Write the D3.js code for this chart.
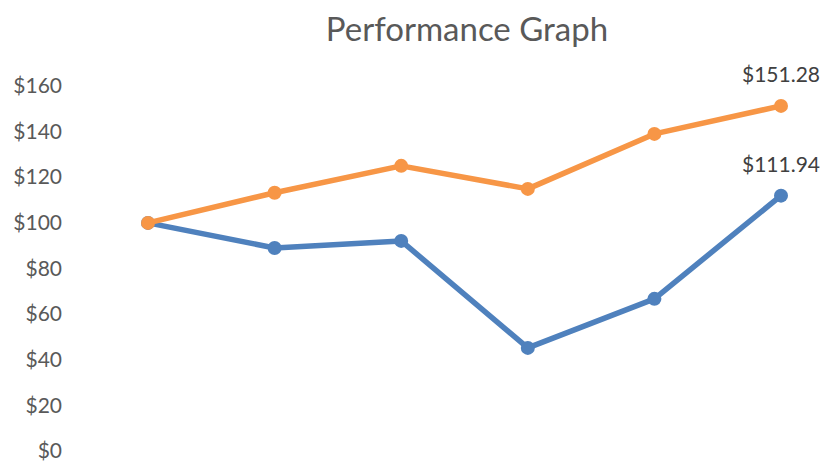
<!DOCTYPE html>
<html>
<head>
<meta charset="utf-8">
<script src="https://cdn.jsdelivr.net/npm/d3@7"></script>
<style>
  body { margin: 0; background: #fff; }
  text { font-family: Lato, "Open Sans", sans-serif; }
</style>
</head>
<body>
<div id="chart"></div>
<script>
// chart data
var periods = ["P1", "P2", "P3", "P4", "P5", "P6"];
var orangeValues = [100, 113.2, 125, 114.9, 139, 151.28];
var blueValues = [100, 89, 92.1, 45.2, 66.7, 111.94];
var yTicks = [0, 20, 40, 60, 80, 100, 120, 140, 160];

var svgWidth = 824;
var svgHeight = 461;

var svg = d3.select("#chart")
  .append("svg")
  .attr("width", svgWidth)
  .attr("height", svgHeight);

var xScale = d3.scalePoint()
  .domain(periods)
  .range([148, 781]);

var yScale = d3.scaleLinear()
  .domain([0, 160])
  .range([451, 86]);

// title
svg.append("text")
  .attr("x", 467)
  .attr("y", 41)
  .attr("text-anchor", "middle")
  .attr("font-size", "33px")
  .attr("fill", "#595959")
  .text("Performance Graph");

// y axis, labels only
var leftAxis = d3.axisLeft(yScale)
  .tickValues(yTicks)
  .tickSize(0)
  .tickPadding(0)
  .tickFormat(d => "$" + d);

var yAxis = svg.append("g")
  .attr("transform", "translate(62,0)")
  .call(leftAxis);
yAxis.select(".domain").remove();
yAxis.selectAll("text")
  .attr("font-size", "21px")
  .attr("fill", "#595959")
  .attr("font-family", "Lato, 'Open Sans', sans-serif");

var line = d3.line()
  .x((d, i) => xScale(periods[i]))
  .y(d => yScale(d));

function drawSeries(values, color) {
  svg.append("path")
    .datum(values)
    .attr("fill", "none")
    .attr("stroke", color)
    .attr("stroke-width", 5.5)
    .attr("stroke-linejoin", "round")
    .attr("d", line);

  svg.selectAll(null)
    .data(values)
    .enter()
    .append("circle")
    .attr("cx", (d, i) => xScale(periods[i]))
    .attr("cy", d => yScale(d))
    .attr("r", 7)
    .attr("fill", color);

  var last = values.length - 1;
  svg.append("text")
    .attr("x", xScale(periods[last]))
    .attr("y", yScale(values[last]) - 24)
    .attr("text-anchor", "middle")
    .attr("font-size", "21px")
    .attr("fill", "#404040")
    .text("$" + values[last].toFixed(2));
}

// blue first so orange sits on top at the shared start
drawSeries(blueValues, "#4f81bd");
drawSeries(orangeValues, "#f79646");
</script>
</body>
</html>
